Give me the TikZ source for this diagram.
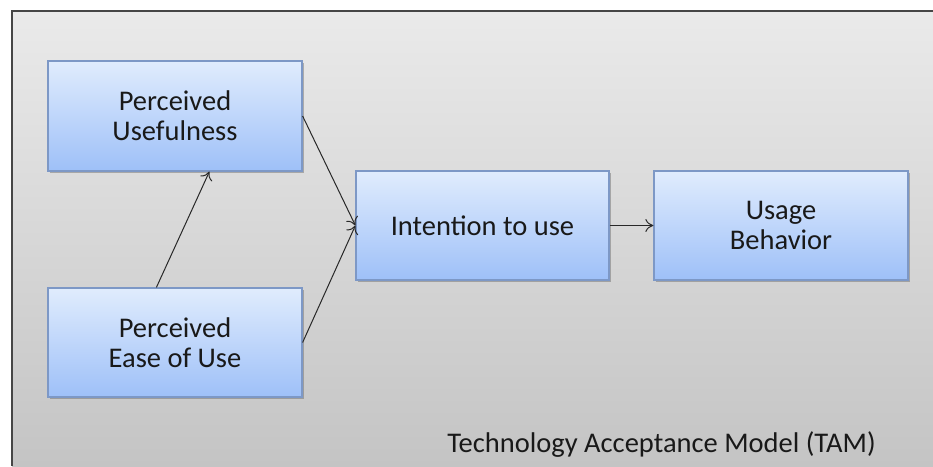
\documentclass[tikz,border=0pt]{standalone}
\usepackage{fontspec}
\setmainfont{Carlito}
\usetikzlibrary{shadows,calc,arrows.meta}
\definecolor{bgtop}{RGB}{234,234,234}
\definecolor{bgbot}{RGB}{196,196,196}
\definecolor{boxtop}{RGB}{224,236,253}
\definecolor{boxbot}{RGB}{158,192,248}
\definecolor{boxline}{RGB}{125,152,198}
\definecolor{frameline}{RGB}{70,70,70}
\definecolor{arrowcol}{RGB}{40,40,40}
\tikzset{
  modelbox/.style={rectangle, draw=boxline, line width=1.2pt,
    top color=boxtop, bottom color=boxbot,
    minimum width=254pt, minimum height=109pt, align=center,
    font=\fontsize{28.5}{30}\selectfont, text=black!90,
    drop shadow={shadow xshift=1.5pt, shadow yshift=-2pt, opacity=0.45, fill=black!60}},
  link/.style={draw=arrowcol, line width=1pt, -{To[length=8pt,width=13pt]}},
}
\begin{document}
\begin{tikzpicture}[x=1pt,y=1pt]
\useasboundingbox (0,0) rectangle (933,466);
\fill[white] (0,0) rectangle (933,466);
\shade[top color=bgtop, bottom color=bgbot] (12,0) rectangle (933,455);
\draw[frameline, line width=1.5pt] (12,0) -- (12,455) -- (933,455);

\node[modelbox, minimum height=110pt] (pu) at (175,350) {Perceived\\Usefulness};
\node[modelbox] (peu) at (175,123.5) {Perceived\\Ease of Use};
\node[modelbox, minimum width=253pt] (int) at (482.5,240.5) {Intention to use};
\node[modelbox] (ub) at (781,240.5) {Usage\\Behavior};

\draw[link] ($(peu.north west)+(109,0)$) -- ($(pu.south west)+(162,0)$);
\draw[link] (pu.east) -- (int.west);
\draw[link] (peu.east) -- (int.west);
\draw[link] (int.east) -- (ub.west);

\node[anchor=base, font=\fontsize{28.5}{30}\selectfont, text=black!90] (title) at (661.5,13.3) {Technology Acceptance Model (TAM)};
\end{tikzpicture}
\end{document}
